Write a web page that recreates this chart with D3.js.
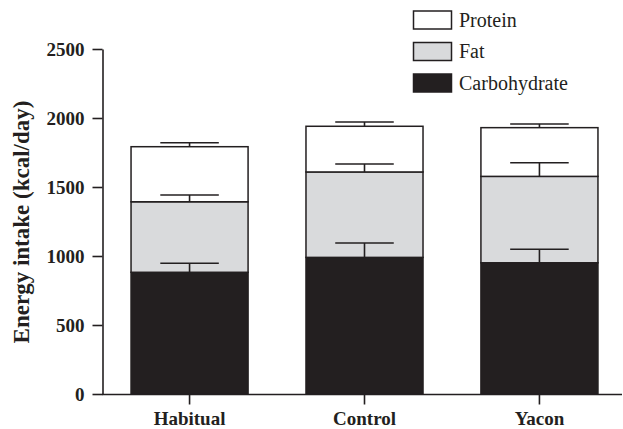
<!DOCTYPE html>
<html>
<head>
<meta charset="utf-8">
<script src="https://cdn.jsdelivr.net/npm/d3@7"></script>
<style>
  html, body { margin: 0; padding: 0; background: #fff; }
  svg { display: block; }
  svg text { font-family: "Liberation Serif", Tinos, "Times New Roman", Times, "DejaVu Serif", serif; }
</style>
</head>
<body>
<svg id="chart" width="623" height="429"></svg>
<script>
const categories = ["Habitual", "Control", "Yacon"];
const seriesNames = ["Carbohydrate", "Fat", "Protein"];
const carbohydrate = [882, 990, 951];
const fat = [511, 619, 626];
const protein = [399, 331, 353];
const carbohydrateErr = [65, 104, 98];
const fatErr = [49, 58, 99];
const proteinErr = [29, 31, 27];
const yTicks = [0, 500, 1000, 1500, 2000, 2500];
const legendOrder = ["Protein", "Fat", "Carbohydrate"];

const colors = { Carbohydrate: "#231f20", Fat: "#d9dadc", Protein: "#ffffff" };

const svg = d3.select("#chart");

const y = d3.scaleLinear().domain([0, 2500]).range([394, 49]);
const x = d3.scaleBand().domain(categories).range([102, 627])
  .paddingInner(0.331).paddingOuter(0.166);

const values = { Carbohydrate: carbohydrate, Fat: fat, Protein: protein };
const errs = { Carbohydrate: carbohydrateErr, Fat: fatErr, Protein: proteinErr };

const table = categories.map((c, i) => {
  const row = { cat: c };
  seriesNames.forEach(s => row[s] = values[s][i]);
  return row;
});
const stacked = d3.stack().keys(seriesNames)(table);

// bars
stacked.forEach(layer => {
  svg.append("g").selectAll("rect").data(layer).join("rect")
    .attr("x", d => x(d.data.cat))
    .attr("width", x.bandwidth())
    .attr("y", d => y(d[1]))
    .attr("height", d => y(d[0]) - y(d[1]))
    .attr("fill", colors[layer.key])
    .attr("stroke", "#231f20")
    .attr("stroke-width", 1.5);
});

// error bars (upward only)
stacked.forEach(layer => {
  const e = errs[layer.key];
  const g = svg.append("g").attr("stroke", "#231f20").attr("stroke-width", 1.6);
  layer.forEach((d, i) => {
    const cx = x(d.data.cat) + x.bandwidth() / 2;
    const capW = x.bandwidth() / 2;
    g.append("line").attr("x1", cx).attr("x2", cx)
      .attr("y1", y(d[1])).attr("y2", y(d[1] + e[i]));
    g.append("line").attr("x1", cx - capW / 2).attr("x2", cx + capW / 2)
      .attr("y1", y(d[1] + e[i])).attr("y2", y(d[1] + e[i]));
  });
});

// y axis
const yAxis = d3.axisLeft(y).tickValues(yTicks).tickSize(10).tickSizeOuter(0).tickPadding(8)
  .tickFormat(d3.format("d"));
const gy = svg.append("g").attr("transform", "translate(102.5,0)").call(yAxis);
gy.attr("font-family", null);
gy.select(".domain").attr("stroke", "#231f20").attr("stroke-width", 1.6);
gy.selectAll(".tick line").attr("stroke", "#231f20").attr("stroke-width", 1.6);
gy.selectAll(".tick text").attr("font-weight", "bold")
  .attr("font-size", 19).attr("fill", "#231f20");

// x axis
const xAxis = d3.axisBottom(x).tickSize(10).tickSizeOuter(0);
const gx = svg.append("g").attr("transform", "translate(0,394.5)").call(xAxis);
gx.attr("font-family", null);
gx.select(".domain").attr("d", "M102,0H622").attr("stroke", "#231f20").attr("stroke-width", 1.6);
gx.selectAll(".tick line").attr("stroke", "#231f20").attr("stroke-width", 1.6);
gx.selectAll(".tick text").attr("font-weight", "bold")
  .attr("font-size", 19).attr("fill", "#231f20").attr("y", 30).attr("dy", 0);

// y title
svg.append("text")
  .attr("transform", "translate(29,222) rotate(-90)")
  .attr("text-anchor", "middle")
  .attr("font-weight", "bold").attr("font-size", 23)
  .attr("fill", "#231f20")
  .text("Energy intake (kcal/day)");

// legend
const legend = svg.append("g");
legendOrder.forEach((name, i) => {
  const yy = 11 + i * 31.5;
  legend.append("rect").attr("x", 413.5).attr("y", yy).attr("width", 38).attr("height", 18)
    .attr("fill", colors[name]).attr("stroke", "#231f20").attr("stroke-width", 1.5);
  legend.append("text").attr("x", 459).attr("y", yy + 15.5)
    .attr("font-size", 20).attr("fill", "#231f20")
    .text(name);
});
</script>
</body>
</html>
